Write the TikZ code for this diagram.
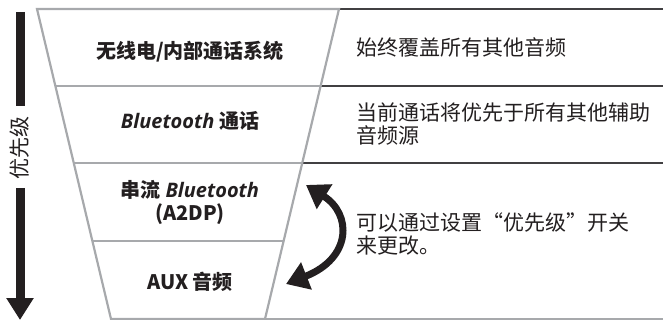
\documentclass[tikz,border=0pt]{standalone}
\usepackage{fontspec}
\setmainfont{Noto Sans CJK SC}
\newfontfamily\latinfont{Open Sans}
\usetikzlibrary{arrows.meta,calc}
\definecolor{inkdark}{HTML}{231F20}
\definecolor{funnelgray}{HTML}{A7A9AC}
\definecolor{rulegray}{HTML}{414042}
\newcommand{\bt}{{\latinfont\bfseries\itshape Bluetooth}}
\begin{document}
\begin{tikzpicture}[x=1pt, y=-1pt,
		level/.style={font=\fontsize{20}{23}\selectfont\bfseries, text=inkdark, align=center},
		note/.style={font=\fontsize{21}{23.5}\selectfont, text=inkdark, align=left, anchor=west},
		funnel/.style={draw=funnelgray, line width=2.2pt},
		rule/.style={draw=rulegray, line width=1.4pt}]
	\useasboundingbox (0,0) rectangle (663,320);

	% funnel corners
	\coordinate (tl) at (37,9);
	\coordinate (tr) at (339,9);
	\coordinate (bl) at (111,319);
	\coordinate (br) at (265,319);
	\coordinate (far top) at (663,9);
	\coordinate (far bot) at (663,319);

	% right side rules
	\draw[rule] (tr) -- (far top);
	\draw[rule] ($(tr)!0.248!(br)$) -- ($(far top)!0.248!(far bot)$);
	\draw[rule] ($(tr)!0.497!(br)$) -- ($(far top)!0.497!(far bot)$);
	\draw[funnel] (br) -- (far bot);

	% funnel and its levels
	\draw[funnel] (tr) -- (tl) -- (bl) -- (br) -- cycle;
	\foreach \t in {0.248, 0.497, 0.748}
		\draw[funnel] ($(tl)!\t!(bl)$) -- ($(tr)!\t!(br)$);

	\node[level] (radio) at (190,52) {无线电/内部通话系统};
	\node[level] (call) at (190,121) {\bt{} 通话};
	\node[level] (stream) at (190,202) {串流 \bt\\(A2DP)};
	\node[level] (aux) at (190,282) {AUX 音频};

	\node[note] (always) at (353,47) {始终覆盖所有其他音频};
	\node[note] (current) at (353,124) {当前通话将优先于所有其他辅助\\音频源};
	\node[note] (change) at (353,234) {可以通过设置“优先级”开关\\来更改。};

	% swap arrow
	\coordinate (swap top) at (306,185);
	\coordinate (swap bot) at (286,284);
	\draw[line width=7pt, inkdark, {Triangle[length=22pt,width=28pt]}-{Triangle[length=22pt,width=28pt]}]
		(swap top) .. controls (352,214) and (352,258) .. (swap bot);

	% priority axis
	\node[rotate=90, font=\fontsize{21}{23}\selectfont, text=inkdark] (prio) at (20,148) {优先级};
	\coordinate (bar top) at (20,12);
	\coordinate (bar bot) at (20,106);
	\coordinate (axis start) at (20,188);
	\coordinate (axis end) at (20,320);
	\draw[line width=9pt, inkdark] (bar top) -- (bar bot);
	\draw[line width=9pt, inkdark, -{Triangle[length=22pt,width=26pt]}] (axis start) -- (axis end);
\end{tikzpicture}
\end{document}
